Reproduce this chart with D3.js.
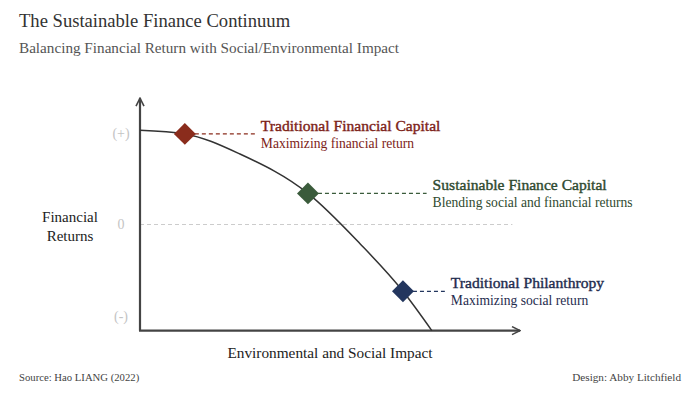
<!DOCTYPE html>
<html><head><meta charset="utf-8">
<script src="https://cdn.jsdelivr.net/npm/d3@7"></script>
<style>body{margin:0;background:#fff}svg{display:block}text{font-family:"Liberation Serif","DejaVu Serif",serif}</style>
</head><body><svg id="c" width="700" height="394"></svg>
<script>
// Data
const curveX = [0, 1.18, 2.63, 4.42, 5.79, 6.92, 7.68];
const curveY = [1.03, 0.99, 0.77, 0.34, -0.21, -0.73, -1.16];
const pointNames = ["Traditional Financial Capital", "Sustainable Finance Capital", "Traditional Philanthropy"];
const pointSubs = ["Maximizing financial return", "Blending social and financial returns", "Maximizing social return"];
const pointX = [1.18, 4.42, 6.92];
const pointY = [0.99, 0.34, -0.73];
const labelX = [3.18, 7.7, 8.18];
const pointColors = ["#8a2c1c", "#3a5b3b", "#23365e"];
const textColors = ["#7d2318", "#2f4a30", "#1f2c4e"];
const tickValues = [1, 0, -1];
const tickLabels = ["(+)", "0", "(-)"];

const svg = d3.select("#c");
const x = d3.scaleLinear().domain([0, 10]).range([140, 520]);
const y = d3.scaleLinear().domain([-1, 1]).range([316, 133]);

// titles
svg.append("text").attr("x", 19).attr("y", 27).attr("font-size", 18.6).attr("fill", "#333").text("The Sustainable Finance Continuum");
svg.append("text").attr("x", 19).attr("y", 53).attr("font-size", 15.2).attr("fill", "#555").text("Balancing Financial Return with Social/Environmental Impact");

// zero line
svg.append("line").attr("x1", x(0)).attr("x2", x(9.8)).attr("y1", y(0)).attr("y2", y(0))
  .attr("stroke", "#ccc").attr("stroke-width", 1).attr("stroke-dasharray", "4,3");

// tick labels
svg.selectAll(".tk").data(tickValues).join("text")
  .attr("x", 121).attr("y", d => y(d)).attr("dy", "0.35em").attr("text-anchor", "middle")
  .attr("font-size", 14).attr("fill", "#c4c4c4").text((d, i) => tickLabels[i]);

// axes with arrows
const defs = svg.append("defs");
defs.append("marker").attr("id", "arr").attr("viewBox", "0 0 10 10").attr("refX", 9).attr("refY", 5)
  .attr("markerWidth", 10).attr("markerHeight", 10).attr("markerUnits", "userSpaceOnUse").attr("orient", "auto")
  .append("path").attr("d", "M1,1 L9,5 L1,9").attr("fill", "none").attr("stroke", "#444").attr("stroke-width", 1.6);
svg.append("line").attr("x1", x(0)).attr("x2", x(0)).attr("y1", y(-1.16)).attr("y2", y(1.38))
  .attr("stroke", "#444").attr("stroke-width", 2.2).attr("marker-end", "url(#arr)");
svg.append("line").attr("x1", x(0) - 1).attr("x2", x(10)).attr("y1", y(-1.16)).attr("y2", y(-1.16))
  .attr("stroke", "#444").attr("stroke-width", 2.2).attr("marker-end", "url(#arr)");

// curve
const line = d3.line().x(d => x(d[0])).y(d => y(d[1])).curve(d3.curveMonotoneX);
svg.append("path").datum(curveX.map((v, i) => [v, curveY[i]])).attr("d", line)
  .attr("fill", "none").attr("stroke", "#333").attr("stroke-width", 1.5);

// leaders, diamonds, labels
pointX.forEach((px, i) => {
  const cx = x(px), cy = y(pointY[i]);
  svg.append("line").attr("x1", cx + 10).attr("x2", x(labelX[i]) - 6).attr("y1", cy).attr("y2", cy)
    .attr("stroke", pointColors[i]).attr("stroke-width", 1.2).attr("stroke-dasharray", "4,3");
  svg.append("path").attr("d", d3.symbol(d3.symbolSquare, 240)).attr("transform", `translate(${cx},${cy}) rotate(45)`)
    .attr("fill", pointColors[i]);
  svg.append("text").attr("x", x(labelX[i])).attr("y", cy - 3).attr("font-size", 15.6)
    .attr("fill", textColors[i]).attr("stroke", textColors[i]).attr("stroke-width", 0.4).text(pointNames[i]);
  svg.append("text").attr("x", x(labelX[i])).attr("y", cy + 14).attr("font-size", 13.6)
    .attr("fill", textColors[i]).text(pointSubs[i]);
});

// axis titles
svg.append("text").attr("x", 70).attr("y", 222).attr("text-anchor", "middle").attr("font-size", 15).attr("fill", "#222").text("Financial");
svg.append("text").attr("x", 70).attr("y", 241).attr("text-anchor", "middle").attr("font-size", 15).attr("fill", "#222").text("Returns");
svg.append("text").attr("x", 330).attr("y", 358).attr("text-anchor", "middle").attr("font-size", 15.3).attr("fill", "#222").text("Environmental and Social Impact");

// footer
svg.append("text").attr("x", 19).attr("y", 381).attr("font-size", 10.7).attr("fill", "#444").text("Source: Hao LIANG (2022)");
svg.append("text").attr("x", 681).attr("y", 381).attr("text-anchor", "end").attr("font-size", 11.2).attr("fill", "#444").text("Design: Abby Litchfield");
</script></body></html>
